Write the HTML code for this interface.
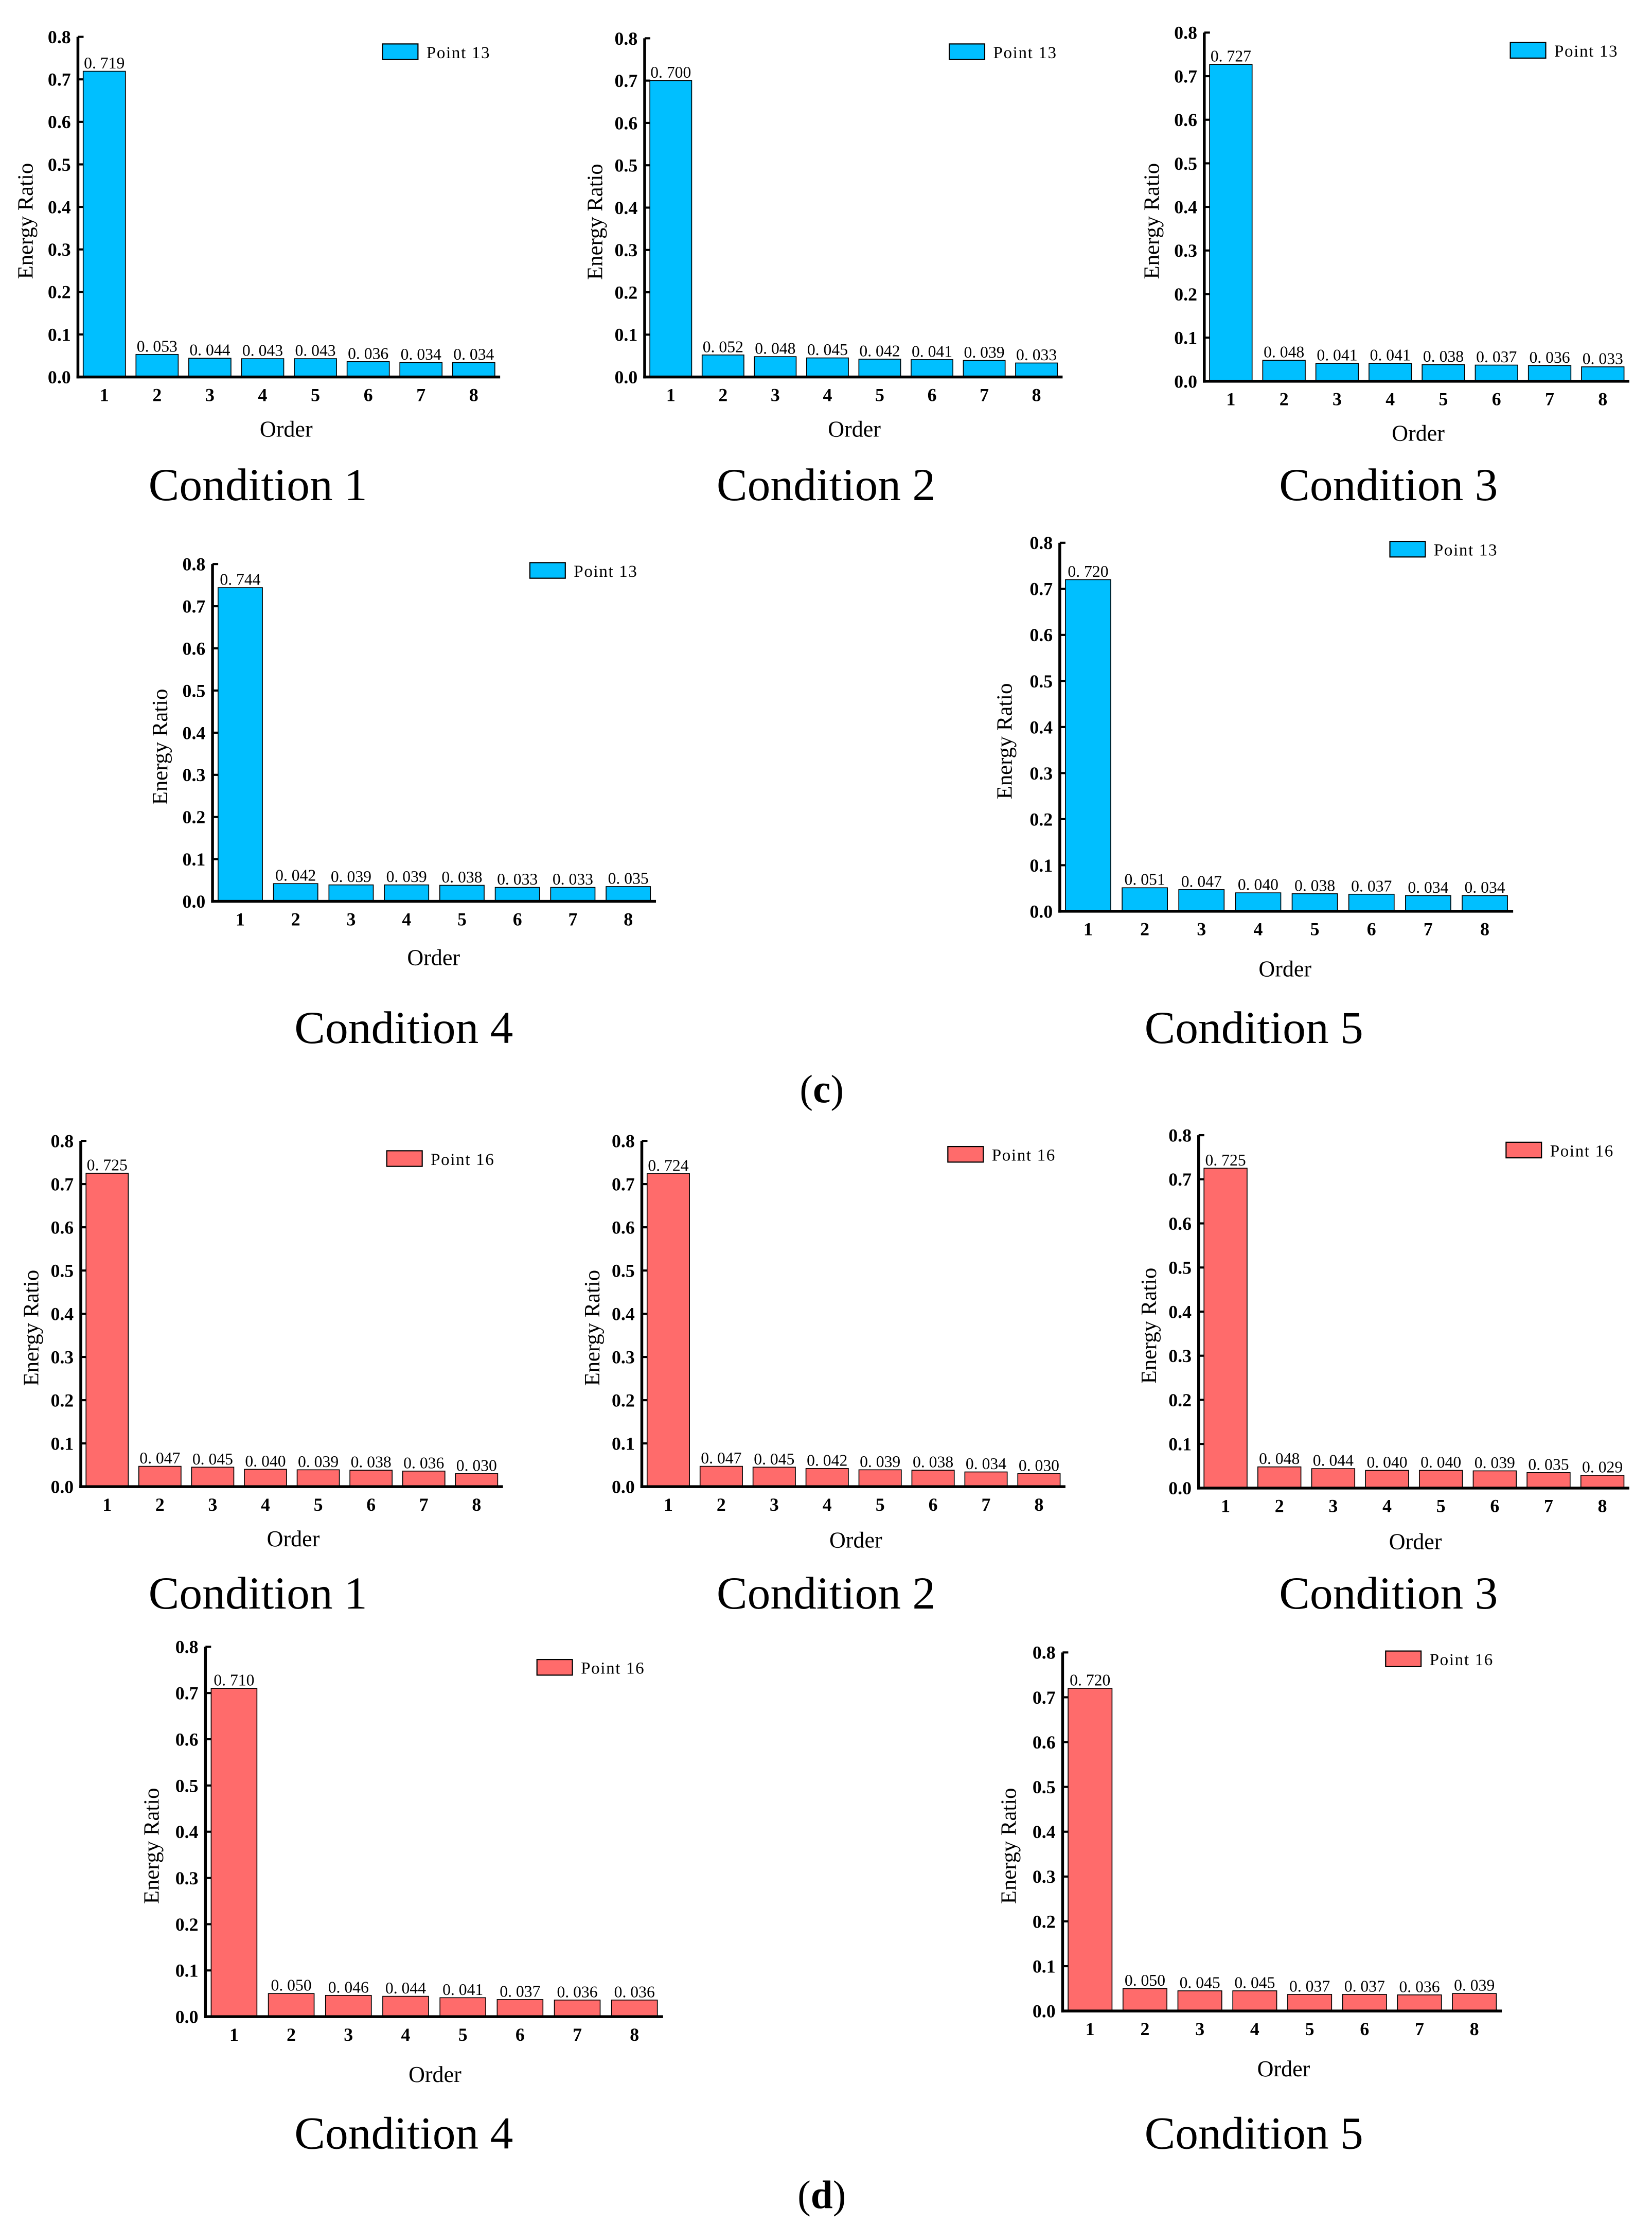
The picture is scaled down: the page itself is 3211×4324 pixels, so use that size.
<!DOCTYPE html>
<html><head><meta charset="utf-8"><style>
html,body{margin:0;padding:0;background:#fff}
svg{display:block}
</style></head><body>
<svg id="fig" xmlns="http://www.w3.org/2000/svg" width="3211" height="4324" viewBox="0 0 1166 1570" preserveAspectRatio="none">
<rect width="1166" height="1570" fill="#fff"/>
<text x="580" y="778" font-family="Liberation Serif, serif" font-size="28" text-anchor="middle">(<tspan font-weight="bold">c</tspan>)</text>
<text x="580" y="1558" font-family="Liberation Serif, serif" font-size="28" text-anchor="middle">(<tspan font-weight="bold">d</tspan>)</text>
</svg>
<script>
const categories = [1,2,3,4,5,6,7,8];
const yTicks = [0.0,0.1,0.2,0.3,0.4,0.5,0.6,0.7,0.8];
const c1Values = [0.719,0.053,0.044,0.043,0.043,0.036,0.034,0.034];
const c2Values = [0.700,0.052,0.048,0.045,0.042,0.041,0.039,0.033];
const c3Values = [0.727,0.048,0.041,0.041,0.038,0.037,0.036,0.033];
const c4Values = [0.744,0.042,0.039,0.039,0.038,0.033,0.033,0.035];
const c5Values = [0.720,0.051,0.047,0.040,0.038,0.037,0.034,0.034];
const d1Values = [0.725,0.047,0.045,0.040,0.039,0.038,0.036,0.030];
const d2Values = [0.724,0.047,0.045,0.042,0.039,0.038,0.034,0.030];
const d3Values = [0.725,0.048,0.044,0.040,0.040,0.039,0.035,0.029];
const d4Values = [0.710,0.050,0.046,0.044,0.041,0.037,0.036,0.036];
const d5Values = [0.720,0.050,0.045,0.045,0.037,0.037,0.036,0.039];

const NS = 'http://www.w3.org/2000/svg';
const svg = document.getElementById('fig');
function mk(tag, attrs, parent){
  const e = document.createElementNS(NS, tag);
  for (const k in attrs) e.setAttribute(k, attrs[k]);
  (parent||svg).appendChild(e);
  return e;
}
const layouts = [
 {id:'c1',v:c1Values,L:55,R:353,B:266,T:26,lg:[270,31],ox:202,oy:308,yt:18,cx:182,cy:353,cond:'Condition 1',pt:'Point 13',col:'#00BFFF'},
 {id:'c2',v:c2Values,L:455,R:750,B:266,T:27,lg:[670,31],ox:603,oy:308,yt:420,cx:583,cy:353,cond:'Condition 2',pt:'Point 13',col:'#00BFFF'},
 {id:'c3',v:c3Values,L:850,R:1150,B:269,T:23,lg:[1066,30],ox:1001,oy:311,yt:813,cx:980,cy:353,cond:'Condition 3',pt:'Point 13',col:'#00BFFF'},
 {id:'c4',v:c4Values,L:150,R:463,B:636,T:398,lg:[374,397],ox:306,oy:681,yt:113,cx:285,cy:736,cond:'Condition 4',pt:'Point 13',col:'#00BFFF'},
 {id:'c5',v:c5Values,L:748,R:1068,B:643,T:383,lg:[981,382],ox:907,oy:689,yt:709,cx:885,cy:736,cond:'Condition 5',pt:'Point 13',col:'#00BFFF'},
 {id:'d1',v:d1Values,L:57,R:355,B:1049,T:805,lg:[273,812],ox:207,oy:1091,yt:22,cx:182,cy:1135,cond:'Condition 1',pt:'Point 16',col:'#FF6B6B'},
 {id:'d2',v:d2Values,L:453,R:752,B:1049,T:805,lg:[669,809],ox:604,oy:1092,yt:418,cx:583,cy:1135,cond:'Condition 2',pt:'Point 16',col:'#FF6B6B'},
 {id:'d3',v:d3Values,L:846,R:1150,B:1050,T:801,lg:[1063,806],ox:999,oy:1093,yt:811,cx:980,cy:1135,cond:'Condition 3',pt:'Point 16',col:'#FF6B6B'},
 {id:'d4',v:d4Values,L:145,R:468,B:1423,T:1162,lg:[379,1171],ox:307,oy:1469,yt:107,cx:285,cy:1516,cond:'Condition 4',pt:'Point 16',col:'#FF6B6B'},
 {id:'d5',v:d5Values,L:750,R:1060,B:1419,T:1166,lg:[978,1165],ox:906,oy:1465,yt:712,cx:885,cy:1516,cond:'Condition 5',pt:'Point 16',col:'#FF6B6B'}
];
layouts.forEach(c=>{
  const g = mk('g',{});
  
  
  const yS = v => c.B - (v/0.8)*(c.B-c.T);
  const band = (c.R - c.L)/categories.length;
  const xS = i => c.L + band*(i+0.5);
  const bw = band*0.8;
  c.v.forEach((val,i)=>{
    const r = mk('rect',{x:xS(i)-bw/2,y:yS(val),width:bw,height:c.B-yS(val),fill:c.col,stroke:'#000','stroke-width':0.6},g);
    
    
    const t = mk('text',{x:xS(i),y:yS(val)-2,'text-anchor':'middle','font-family':'Liberation Serif, serif','font-size':11.5},g);
    t.textContent = val.toFixed(3).replace('.', '. ');
    
    
  });
  const ya = mk('line',{x1:c.L,y1:c.T,x2:c.L,y2:c.B+1,stroke:'#000','stroke-width':2},g);
  
  
  const xa = mk('line',{x1:c.L-1,y1:c.B,x2:c.R,y2:c.B,stroke:'#000','stroke-width':2},g);
  
  
  yTicks.forEach(tv=>{
    mk('line',{x1:c.L,y1:yS(tv),x2:c.L+4,y2:yS(tv),stroke:'#000','stroke-width':1.5},g);
    const t = mk('text',{x:c.L-5,y:yS(tv)+4.5,'text-anchor':'end','font-family':'Liberation Serif, serif','font-size':13,'font-weight':'bold'},g);
    t.textContent = tv.toFixed(1);
    
    
  });
  categories.forEach((cat,i)=>{
    const t = mk('text',{x:xS(i),y:c.B+17,'text-anchor':'middle','font-family':'Liberation Serif, serif','font-size':13,'font-weight':'bold'},g);
    t.textContent = cat;
    
    
  });
  const ot = mk('text',{x:c.ox,y:c.oy,'text-anchor':'middle','font-family':'Liberation Serif, serif','font-size':16},g);
  ot.textContent = 'Order';
  
  
  const ymid = (c.T+c.B)/2 + 10;
  const yt = mk('text',{x:c.yt,y:ymid,'text-anchor':'middle','font-family':'Liberation Serif, serif','font-size':15.5,transform:`rotate(-90 ${c.yt} ${ymid})`,dy:5},g);
  yt.textContent = 'Energy Ratio';
  
  
  const lr = mk('rect',{x:c.lg[0],y:c.lg[1],width:25,height:11,fill:c.col,stroke:'#000','stroke-width':0.8},g);
  
  
  const lt = mk('text',{x:c.lg[0]+31,y:c.lg[1]+10,'font-family':'Liberation Serif, serif','font-size':12,'letter-spacing':'0.6'},g);
  lt.textContent = c.pt.replace(' ', '  ');
  lt.setAttribute('xml:space','preserve');
  
  
  const ct = mk('text',{x:c.cx,y:c.cy,'text-anchor':'middle','font-family':'Liberation Serif, serif','font-size':32.5},g);
  ct.textContent = c.cond;
  
  
});
</script>
</body></html>
